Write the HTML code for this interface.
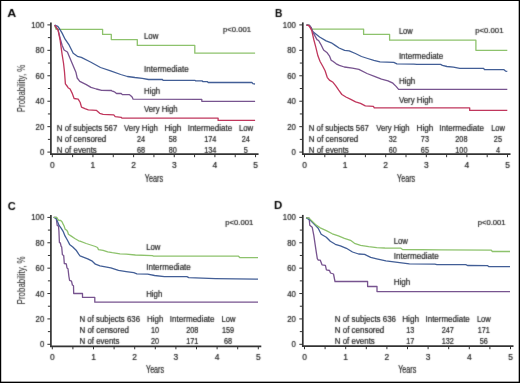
<!DOCTYPE html>
<html><head><meta charset="utf-8"><style>
html,body{margin:0;padding:0;background:#fff;}
body{width:520px;height:383px;overflow:hidden;}
svg{display:block;font-family:"Liberation Sans", sans-serif;will-change:transform;}
</style></head><body>
<svg width="520" height="383" viewBox="0 0 520 383">
<defs><filter id="sm" x="0" y="0" width="520" height="383" filterUnits="userSpaceOnUse" color-interpolation-filters="sRGB"><feConvolveMatrix order="3" kernelMatrix="0.0144 0.0912 0.0144 0.0912 0.5776 0.0912 0.0144 0.0912 0.0144" divisor="1" edgeMode="duplicate" preserveAlpha="false"/></filter></defs>
<rect x="0" y="0" width="520" height="383" fill="#fff"/>
<g>
<line x1="50.9" y1="22.4" x2="50.9" y2="155.0" stroke="#333" stroke-width="1.7"/>
<line x1="47.4" y1="24.90" x2="50.9" y2="24.90" stroke="#333" stroke-width="1"/>
<line x1="47.9" y1="37.62" x2="50.9" y2="37.62" stroke="#333" stroke-width="1"/>
<line x1="47.4" y1="50.34" x2="50.9" y2="50.34" stroke="#333" stroke-width="1"/>
<line x1="47.9" y1="63.06" x2="50.9" y2="63.06" stroke="#333" stroke-width="1"/>
<line x1="47.4" y1="75.78" x2="50.9" y2="75.78" stroke="#333" stroke-width="1"/>
<line x1="47.9" y1="88.50" x2="50.9" y2="88.50" stroke="#333" stroke-width="1"/>
<line x1="47.4" y1="101.22" x2="50.9" y2="101.22" stroke="#333" stroke-width="1"/>
<line x1="47.9" y1="113.94" x2="50.9" y2="113.94" stroke="#333" stroke-width="1"/>
<line x1="47.4" y1="126.66" x2="50.9" y2="126.66" stroke="#333" stroke-width="1"/>
<line x1="47.9" y1="139.38" x2="50.9" y2="139.38" stroke="#333" stroke-width="1"/>
<line x1="47.4" y1="152.10" x2="50.9" y2="152.10" stroke="#333" stroke-width="1"/>
<line x1="50.1" y1="154.2" x2="258.55" y2="154.2" stroke="#333" stroke-width="1.8"/>
<line x1="52.30" y1="154.2" x2="52.30" y2="157.2" stroke="#333" stroke-width="1"/>
<line x1="72.62" y1="154.2" x2="72.62" y2="157.2" stroke="#333" stroke-width="1"/>
<line x1="92.95" y1="154.2" x2="92.95" y2="157.2" stroke="#333" stroke-width="1"/>
<line x1="113.27" y1="154.2" x2="113.27" y2="157.2" stroke="#333" stroke-width="1"/>
<line x1="133.60" y1="154.2" x2="133.60" y2="157.2" stroke="#333" stroke-width="1"/>
<line x1="153.93" y1="154.2" x2="153.93" y2="157.2" stroke="#333" stroke-width="1"/>
<line x1="174.25" y1="154.2" x2="174.25" y2="157.2" stroke="#333" stroke-width="1"/>
<line x1="194.57" y1="154.2" x2="194.57" y2="157.2" stroke="#333" stroke-width="1"/>
<line x1="214.90" y1="154.2" x2="214.90" y2="157.2" stroke="#333" stroke-width="1"/>
<line x1="235.22" y1="154.2" x2="235.22" y2="157.2" stroke="#333" stroke-width="1"/>
<line x1="255.55" y1="154.2" x2="255.55" y2="157.2" stroke="#333" stroke-width="1"/>
<polyline points="54.7,25.2 56.0,29.3 102.6,29.3 102.6,34.4 111.3,34.4 111.3,39.6 137.3,39.6 137.3,45.4 194.8,45.4 194.8,53.2 255.1,53.2" fill="none" stroke="#8dc26c" stroke-width="1.3" stroke-linejoin="round"/>
<polyline points="54.7,25.2 57.8,26.3 59.1,28.1 62.1,33.1 65.1,39.2 69.2,45.2 73.2,53.3 77.4,56.3 81.3,57.4 90.5,62.0 100.5,67.5 110.6,70.9 120.7,74.5 127.4,76.5 134.9,77.5 142.3,78.3 148.5,79.5 162.5,79.5 162.9,80.3 194.7,80.3 195.7,80.9 202.0,80.9 203.0,81.6 207.2,81.6 208.2,82.5 251.9,82.5 252.9,83.6 255.0,84.0" fill="none" stroke="#425e96" stroke-width="1.3" stroke-linejoin="round"/>
<polyline points="54.7,25.2 58.1,30.1 60.1,38.2 62.1,45.2 64.1,50.0 67.4,52.0 72.0,63.0 75.9,72.2 77.2,78.0 79.8,81.3 86.3,84.6 91.0,87.4 96.3,89.0 101.7,90.4 111.5,90.5 112.3,91.2 113.8,91.5 115.0,92.3 116.5,93.5 121.2,93.5 122.3,94.6 129.2,94.6 130.8,95.8 132.3,97.3 133.1,99.2 201.8,99.3 201.8,101.3 255.1,101.3" fill="none" stroke="#77538f" stroke-width="1.3" stroke-linejoin="round"/>
<polyline points="54.7,25.2 58.1,30.1 60.1,40.2 62.1,54.3 63.5,63.0 64.5,72.0 65.4,83.9 67.4,86.5 68.1,87.7 70.1,89.0 72.1,93.1 74.1,98.5 78.2,99.1 80.2,102.5 81.5,107.2 84.9,108.6 88.3,109.9 96.3,110.3 99.7,113.3 103.1,114.3 113.8,114.9 115.2,116.6 121.2,117.3 121.9,118.1 218.1,118.1 218.1,120.4 255.1,120.4" fill="none" stroke="#c0365c" stroke-width="1.3" stroke-linejoin="round"/>
<line x1="302.8" y1="22.4" x2="302.8" y2="155.0" stroke="#333" stroke-width="1.7"/>
<line x1="299.3" y1="24.90" x2="302.8" y2="24.90" stroke="#333" stroke-width="1"/>
<line x1="299.8" y1="37.62" x2="302.8" y2="37.62" stroke="#333" stroke-width="1"/>
<line x1="299.3" y1="50.34" x2="302.8" y2="50.34" stroke="#333" stroke-width="1"/>
<line x1="299.8" y1="63.06" x2="302.8" y2="63.06" stroke="#333" stroke-width="1"/>
<line x1="299.3" y1="75.78" x2="302.8" y2="75.78" stroke="#333" stroke-width="1"/>
<line x1="299.8" y1="88.50" x2="302.8" y2="88.50" stroke="#333" stroke-width="1"/>
<line x1="299.3" y1="101.22" x2="302.8" y2="101.22" stroke="#333" stroke-width="1"/>
<line x1="299.8" y1="113.94" x2="302.8" y2="113.94" stroke="#333" stroke-width="1"/>
<line x1="299.3" y1="126.66" x2="302.8" y2="126.66" stroke="#333" stroke-width="1"/>
<line x1="299.8" y1="139.38" x2="302.8" y2="139.38" stroke="#333" stroke-width="1"/>
<line x1="299.3" y1="152.10" x2="302.8" y2="152.10" stroke="#333" stroke-width="1"/>
<line x1="302.0" y1="154.2" x2="510.5" y2="154.2" stroke="#333" stroke-width="1.8"/>
<line x1="304.50" y1="154.2" x2="304.50" y2="157.2" stroke="#333" stroke-width="1"/>
<line x1="324.80" y1="154.2" x2="324.80" y2="157.2" stroke="#333" stroke-width="1"/>
<line x1="345.10" y1="154.2" x2="345.10" y2="157.2" stroke="#333" stroke-width="1"/>
<line x1="365.40" y1="154.2" x2="365.40" y2="157.2" stroke="#333" stroke-width="1"/>
<line x1="385.70" y1="154.2" x2="385.70" y2="157.2" stroke="#333" stroke-width="1"/>
<line x1="406.00" y1="154.2" x2="406.00" y2="157.2" stroke="#333" stroke-width="1"/>
<line x1="426.30" y1="154.2" x2="426.30" y2="157.2" stroke="#333" stroke-width="1"/>
<line x1="446.60" y1="154.2" x2="446.60" y2="157.2" stroke="#333" stroke-width="1"/>
<line x1="466.90" y1="154.2" x2="466.90" y2="157.2" stroke="#333" stroke-width="1"/>
<line x1="487.20" y1="154.2" x2="487.20" y2="157.2" stroke="#333" stroke-width="1"/>
<line x1="507.50" y1="154.2" x2="507.50" y2="157.2" stroke="#333" stroke-width="1"/>
<polyline points="306.5,25.0 309.0,25.0 312.0,29.1 363.6,29.1 363.6,34.4 389.6,34.4 389.6,40.2 475.9,40.2 475.9,50.3 507.3,50.3" fill="none" stroke="#8dc26c" stroke-width="1.3" stroke-linejoin="round"/>
<polyline points="306.5,25.0 310.0,26.0 313.0,31.7 319.6,37.0 326.1,40.9 331.3,42.8 335.2,45.4 339.1,48.0 344.6,50.4 349.2,50.8 355.4,53.5 361.5,56.5 367.7,58.5 373.8,60.4 380.0,61.9 393.8,62.4 396.9,63.8 413.8,64.2 416.9,64.4 440.6,64.4 442.4,65.4 447.0,66.5 453.4,67.2 459.8,68.3 483.6,68.3 484.5,69.6 503.7,69.6 505.5,71.1 507.3,71.4" fill="none" stroke="#425e96" stroke-width="1.3" stroke-linejoin="round"/>
<polyline points="306.5,25.0 309.1,25.2 311.1,27.5 313.0,32.4 317.0,39.6 318.6,40.5 320.8,44.3 323.6,50.0 327.2,52.8 329.4,55.8 331.3,60.5 332.2,60.8 336.2,63.8 339.4,65.3 344.3,67.0 352.4,68.1 358.9,69.4 367.0,73.5 375.1,76.7 381.5,79.1 388.0,80.8 392.9,83.2 396.1,86.4 398.6,89.3 507.3,89.4" fill="none" stroke="#77538f" stroke-width="1.3" stroke-linejoin="round"/>
<polyline points="306.5,25.0 309.1,25.9 311.7,30.4 313.9,40.0 315.8,47.2 317.9,55.8 320.1,61.5 322.9,66.5 325.1,70.8 327.2,77.3 329.4,80.1 333.0,82.3 335.8,85.9 338.7,90.2 341.9,94.5 345.9,97.0 350.8,99.4 355.6,101.8 360.5,103.4 365.3,105.9 373.4,106.4 374.3,107.8 469.7,107.8 469.7,110.4 507.3,110.4" fill="none" stroke="#c0365c" stroke-width="1.3" stroke-linejoin="round"/>
<line x1="50.9" y1="214.9" x2="50.9" y2="347.1" stroke="#333" stroke-width="1.7"/>
<line x1="47.4" y1="217.40" x2="50.9" y2="217.40" stroke="#333" stroke-width="1"/>
<line x1="47.9" y1="230.09" x2="50.9" y2="230.09" stroke="#333" stroke-width="1"/>
<line x1="47.4" y1="242.78" x2="50.9" y2="242.78" stroke="#333" stroke-width="1"/>
<line x1="47.9" y1="255.47" x2="50.9" y2="255.47" stroke="#333" stroke-width="1"/>
<line x1="47.4" y1="268.16" x2="50.9" y2="268.16" stroke="#333" stroke-width="1"/>
<line x1="47.9" y1="280.85" x2="50.9" y2="280.85" stroke="#333" stroke-width="1"/>
<line x1="47.4" y1="293.54" x2="50.9" y2="293.54" stroke="#333" stroke-width="1"/>
<line x1="47.9" y1="306.23" x2="50.9" y2="306.23" stroke="#333" stroke-width="1"/>
<line x1="47.4" y1="318.92" x2="50.9" y2="318.92" stroke="#333" stroke-width="1"/>
<line x1="47.9" y1="331.61" x2="50.9" y2="331.61" stroke="#333" stroke-width="1"/>
<line x1="47.4" y1="344.30" x2="50.9" y2="344.30" stroke="#333" stroke-width="1"/>
<line x1="50.1" y1="346.3" x2="261.3" y2="346.3" stroke="#333" stroke-width="1.8"/>
<line x1="52.30" y1="346.3" x2="52.30" y2="349.3" stroke="#333" stroke-width="1"/>
<line x1="72.90" y1="346.3" x2="72.90" y2="349.3" stroke="#333" stroke-width="1"/>
<line x1="93.50" y1="346.3" x2="93.50" y2="349.3" stroke="#333" stroke-width="1"/>
<line x1="114.10" y1="346.3" x2="114.10" y2="349.3" stroke="#333" stroke-width="1"/>
<line x1="134.70" y1="346.3" x2="134.70" y2="349.3" stroke="#333" stroke-width="1"/>
<line x1="155.30" y1="346.3" x2="155.30" y2="349.3" stroke="#333" stroke-width="1"/>
<line x1="175.90" y1="346.3" x2="175.90" y2="349.3" stroke="#333" stroke-width="1"/>
<line x1="196.50" y1="346.3" x2="196.50" y2="349.3" stroke="#333" stroke-width="1"/>
<line x1="217.10" y1="346.3" x2="217.10" y2="349.3" stroke="#333" stroke-width="1"/>
<line x1="237.70" y1="346.3" x2="237.70" y2="349.3" stroke="#333" stroke-width="1"/>
<line x1="258.30" y1="346.3" x2="258.30" y2="349.3" stroke="#333" stroke-width="1"/>
<polyline points="53.7,217.3 56.3,217.3 56.5,220.2 57.2,225.4 58.5,226.1 58.9,230.7 59.4,242.4 60.4,243.1 61.1,246.3 61.7,247.0 62.4,254.8 63.7,255.5 64.3,263.5 66.3,263.9 67.0,268.0 68.0,268.7 68.9,276.5 69.6,280.4 71.5,281.1 72.4,285.0 73.5,285.7 73.7,293.5 82.5,293.5 82.5,297.4 94.8,297.4 94.8,302.2 258.0,302.2" fill="none" stroke="#77538f" stroke-width="1.3" stroke-linejoin="round"/>
<polyline points="53.7,217.3 56.5,218.9 57.8,222.2 59.1,225.4 61.1,228.1 63.1,231.3 65.0,235.9 67.6,240.5 69.6,244.4 72.8,247.0 76.1,250.2 78.7,254.2 80.0,255.8 87.7,258.8 92.3,261.2 95.4,264.2 100.0,265.8 110.8,267.8 118.5,270.4 126.2,271.6 133.8,272.7 136.9,273.8 147.7,274.2 154.6,275.5 164.4,276.7 186.9,276.7 188.8,277.7 215.4,278.6 258.0,279.1" fill="none" stroke="#425e96" stroke-width="1.3" stroke-linejoin="round"/>
<polyline points="53.7,217.3 56.7,217.4 57.8,219.2 58.8,220.3 60.7,220.5 62.0,221.8 63.0,223.9 64.1,226.0 65.1,229.1 66.7,230.2 67.7,231.8 68.4,234.3 70.9,235.9 74.8,238.5 78.7,240.8 80.0,241.2 86.2,243.5 90.8,245.0 95.4,246.5 97.5,247.5 98.5,249.6 103.1,250.4 107.7,251.9 112.3,252.7 120.0,253.8 126.2,254.2 135.4,255.0 152.3,255.6 153.6,256.1 238.5,256.2 240.0,257.7 258.0,257.7" fill="none" stroke="#8dc26c" stroke-width="1.3" stroke-linejoin="round"/>
<line x1="302.8" y1="214.9" x2="302.8" y2="347.0" stroke="#333" stroke-width="1.7"/>
<line x1="299.3" y1="217.40" x2="302.8" y2="217.40" stroke="#333" stroke-width="1"/>
<line x1="299.8" y1="230.09" x2="302.8" y2="230.09" stroke="#333" stroke-width="1"/>
<line x1="299.3" y1="242.78" x2="302.8" y2="242.78" stroke="#333" stroke-width="1"/>
<line x1="299.8" y1="255.47" x2="302.8" y2="255.47" stroke="#333" stroke-width="1"/>
<line x1="299.3" y1="268.16" x2="302.8" y2="268.16" stroke="#333" stroke-width="1"/>
<line x1="299.8" y1="280.85" x2="302.8" y2="280.85" stroke="#333" stroke-width="1"/>
<line x1="299.3" y1="293.54" x2="302.8" y2="293.54" stroke="#333" stroke-width="1"/>
<line x1="299.8" y1="306.23" x2="302.8" y2="306.23" stroke="#333" stroke-width="1"/>
<line x1="299.3" y1="318.92" x2="302.8" y2="318.92" stroke="#333" stroke-width="1"/>
<line x1="299.8" y1="331.61" x2="302.8" y2="331.61" stroke="#333" stroke-width="1"/>
<line x1="299.3" y1="344.30" x2="302.8" y2="344.30" stroke="#333" stroke-width="1"/>
<line x1="302.0" y1="346.2" x2="513.5" y2="346.2" stroke="#333" stroke-width="1.8"/>
<line x1="304.50" y1="346.2" x2="304.50" y2="349.2" stroke="#333" stroke-width="1"/>
<line x1="325.10" y1="346.2" x2="325.10" y2="349.2" stroke="#333" stroke-width="1"/>
<line x1="345.70" y1="346.2" x2="345.70" y2="349.2" stroke="#333" stroke-width="1"/>
<line x1="366.30" y1="346.2" x2="366.30" y2="349.2" stroke="#333" stroke-width="1"/>
<line x1="386.90" y1="346.2" x2="386.90" y2="349.2" stroke="#333" stroke-width="1"/>
<line x1="407.50" y1="346.2" x2="407.50" y2="349.2" stroke="#333" stroke-width="1"/>
<line x1="428.10" y1="346.2" x2="428.10" y2="349.2" stroke="#333" stroke-width="1"/>
<line x1="448.70" y1="346.2" x2="448.70" y2="349.2" stroke="#333" stroke-width="1"/>
<line x1="469.30" y1="346.2" x2="469.30" y2="349.2" stroke="#333" stroke-width="1"/>
<line x1="489.90" y1="346.2" x2="489.90" y2="349.2" stroke="#333" stroke-width="1"/>
<line x1="510.50" y1="346.2" x2="510.50" y2="349.2" stroke="#333" stroke-width="1"/>
<polyline points="306.1,217.7 309.1,218.1 309.8,225.2 312.2,227.2 313.8,235.4 315.9,249.6 317.3,258.7 318.3,260.2 320.3,260.2 322.0,264.8 325.4,265.3 326.4,269.9 329.5,270.5 330.5,273.0 333.5,274.0 335.0,281.5 367.6,281.5 367.6,286.5 377.0,286.5 377.0,291.6 510.0,291.6" fill="none" stroke="#77538f" stroke-width="1.3" stroke-linejoin="round"/>
<polyline points="306.1,217.7 310.1,220.1 314.1,224.1 318.2,228.2 321.2,234.2 326.3,237.2 330.3,241.3 335.3,244.3 340.4,245.9 346.4,248.3 352.5,252.0 358.6,254.0 364.6,254.4 370.7,257.4 376.7,258.8 385.9,260.9 399.6,262.6 409.4,263.8 434.9,264.2 436.9,264.6 465.8,264.6 467.5,265.5 487.4,265.6 488.6,266.6 510.0,266.6" fill="none" stroke="#425e96" stroke-width="1.3" stroke-linejoin="round"/>
<polyline points="306.1,217.7 309.1,218.1 312.1,221.1 316.2,225.1 320.2,227.8 326.3,230.6 332.3,233.8 338.4,235.8 344.4,238.3 350.5,240.3 354.5,243.3 360.6,245.3 368.7,246.7 376.7,247.6 384.8,248.0 400.6,248.1 402.5,249.5 441.0,249.9 491.3,250.2 492.3,251.5 510.0,251.5" fill="none" stroke="#8dc26c" stroke-width="1.3" stroke-linejoin="round"/>
</g>
<g filter="url(#sm)">
<text x="7.3" y="17.2" font-size="11.8" fill="#000" font-weight="bold" textLength="9" lengthAdjust="spacingAndGlyphs">A</text>
<text x="44.3" y="27.9" font-size="8.7" fill="#222" text-anchor="end" textLength="13.05" lengthAdjust="spacingAndGlyphs" stroke="#222" stroke-width="0.2">100</text>
<text x="44.3" y="53.34" font-size="8.7" fill="#222" text-anchor="end" textLength="8.7" lengthAdjust="spacingAndGlyphs" stroke="#222" stroke-width="0.2">80</text>
<text x="44.3" y="78.78" font-size="8.7" fill="#222" text-anchor="end" textLength="8.7" lengthAdjust="spacingAndGlyphs" stroke="#222" stroke-width="0.2">60</text>
<text x="44.3" y="104.22" font-size="8.7" fill="#222" text-anchor="end" textLength="8.7" lengthAdjust="spacingAndGlyphs" stroke="#222" stroke-width="0.2">40</text>
<text x="44.3" y="129.66" font-size="8.7" fill="#222" text-anchor="end" textLength="8.7" lengthAdjust="spacingAndGlyphs" stroke="#222" stroke-width="0.2">20</text>
<text x="44.3" y="155.1" font-size="8.7" fill="#222" text-anchor="end" textLength="4.35" lengthAdjust="spacingAndGlyphs" stroke="#222" stroke-width="0.2">0</text>
<text x="52.3" y="167.6" font-size="9" fill="#222" text-anchor="middle" textLength="4.7" lengthAdjust="spacingAndGlyphs" stroke="#222" stroke-width="0.2">0</text>
<text x="92.95" y="167.6" font-size="9" fill="#222" text-anchor="middle" textLength="4.7" lengthAdjust="spacingAndGlyphs" stroke="#222" stroke-width="0.2">1</text>
<text x="133.6" y="167.6" font-size="9" fill="#222" text-anchor="middle" textLength="4.7" lengthAdjust="spacingAndGlyphs" stroke="#222" stroke-width="0.2">2</text>
<text x="174.25" y="167.6" font-size="9" fill="#222" text-anchor="middle" textLength="4.7" lengthAdjust="spacingAndGlyphs" stroke="#222" stroke-width="0.2">3</text>
<text x="214.9" y="167.6" font-size="9" fill="#222" text-anchor="middle" textLength="4.7" lengthAdjust="spacingAndGlyphs" stroke="#222" stroke-width="0.2">4</text>
<text x="255.55" y="167.6" font-size="9" fill="#222" text-anchor="middle" textLength="4.7" lengthAdjust="spacingAndGlyphs" stroke="#222" stroke-width="0.2">5</text>
<text x="144.8" y="181.6" font-size="10.6" fill="#222" textLength="18.2" lengthAdjust="spacingAndGlyphs" stroke="#222" stroke-width="0.2">Years</text>
<text transform="translate(24.9,112.2) rotate(-90)" font-size="10" fill="#222" textLength="47.5" lengthAdjust="spacingAndGlyphs">Probability, %</text>
<text x="223" y="32.4" font-size="7.7" fill="#222" textLength="28.1" lengthAdjust="spacingAndGlyphs" stroke="#222" stroke-width="0.2">p&lt;0.001</text>
<text x="144" y="38.7" font-size="8.4" fill="#222" textLength="14.4" lengthAdjust="spacingAndGlyphs" stroke="#222" stroke-width="0.2">Low</text>
<text x="144" y="71.7" font-size="8.4" fill="#222" textLength="44.6" lengthAdjust="spacingAndGlyphs" stroke="#222" stroke-width="0.2">Intermediate</text>
<text x="144" y="93.5" font-size="8.4" fill="#222" textLength="16.1" lengthAdjust="spacingAndGlyphs" stroke="#222" stroke-width="0.2">High</text>
<text x="144" y="112.0" font-size="8.4" fill="#222" textLength="33.7" lengthAdjust="spacingAndGlyphs" stroke="#222" stroke-width="0.2">Very High</text>
<text x="56.8" y="131" font-size="8.5" fill="#222" textLength="60.5" lengthAdjust="spacingAndGlyphs" stroke="#222" stroke-width="0.2">N of subjects 567</text>
<text x="124" y="131" font-size="8.5" fill="#222" textLength="33.9" lengthAdjust="spacingAndGlyphs" stroke="#222" stroke-width="0.2">Very High</text>
<text x="164.4" y="131" font-size="8.5" fill="#222" textLength="16.9" lengthAdjust="spacingAndGlyphs" stroke="#222" stroke-width="0.2">High</text>
<text x="187.7" y="131" font-size="8.5" fill="#222" textLength="44.4" lengthAdjust="spacingAndGlyphs" stroke="#222" stroke-width="0.2">Intermediate</text>
<text x="238.9" y="131" font-size="8.5" fill="#222" textLength="14.3" lengthAdjust="spacingAndGlyphs" stroke="#222" stroke-width="0.2">Low</text>
<text x="56.8" y="142" font-size="8.5" fill="#222" textLength="49.5" lengthAdjust="spacingAndGlyphs" stroke="#222" stroke-width="0.2">N of censored</text>
<text x="141" y="142" font-size="8.5" fill="#222" text-anchor="middle" textLength="8.1" lengthAdjust="spacingAndGlyphs" stroke="#222" stroke-width="0.2">24</text>
<text x="172.8" y="142" font-size="8.5" fill="#222" text-anchor="middle" textLength="8.1" lengthAdjust="spacingAndGlyphs" stroke="#222" stroke-width="0.2">58</text>
<text x="210.3" y="142" font-size="8.5" fill="#222" text-anchor="middle" textLength="12.15" lengthAdjust="spacingAndGlyphs" stroke="#222" stroke-width="0.2">174</text>
<text x="245.8" y="142" font-size="8.5" fill="#222" text-anchor="middle" textLength="8.1" lengthAdjust="spacingAndGlyphs" stroke="#222" stroke-width="0.2">24</text>
<text x="56.8" y="153" font-size="8.5" fill="#222" textLength="40.0" lengthAdjust="spacingAndGlyphs" stroke="#222" stroke-width="0.2">N of events</text>
<text x="141" y="153" font-size="8.5" fill="#222" text-anchor="middle" textLength="8.1" lengthAdjust="spacingAndGlyphs" stroke="#222" stroke-width="0.2">68</text>
<text x="172.8" y="153" font-size="8.5" fill="#222" text-anchor="middle" textLength="8.1" lengthAdjust="spacingAndGlyphs" stroke="#222" stroke-width="0.2">80</text>
<text x="210.3" y="153" font-size="8.5" fill="#222" text-anchor="middle" textLength="12.15" lengthAdjust="spacingAndGlyphs" stroke="#222" stroke-width="0.2">134</text>
<text x="245.8" y="153" font-size="8.5" fill="#222" text-anchor="middle" textLength="4.05" lengthAdjust="spacingAndGlyphs" stroke="#222" stroke-width="0.2">5</text>
<text x="275" y="17.2" font-size="11.3" fill="#000" font-weight="bold" textLength="7.4" lengthAdjust="spacingAndGlyphs">B</text>
<text x="295.9" y="27.9" font-size="8.7" fill="#222" text-anchor="end" textLength="13.05" lengthAdjust="spacingAndGlyphs" stroke="#222" stroke-width="0.2">100</text>
<text x="295.9" y="53.34" font-size="8.7" fill="#222" text-anchor="end" textLength="8.7" lengthAdjust="spacingAndGlyphs" stroke="#222" stroke-width="0.2">80</text>
<text x="295.9" y="78.78" font-size="8.7" fill="#222" text-anchor="end" textLength="8.7" lengthAdjust="spacingAndGlyphs" stroke="#222" stroke-width="0.2">60</text>
<text x="295.9" y="104.22" font-size="8.7" fill="#222" text-anchor="end" textLength="8.7" lengthAdjust="spacingAndGlyphs" stroke="#222" stroke-width="0.2">40</text>
<text x="295.9" y="129.66" font-size="8.7" fill="#222" text-anchor="end" textLength="8.7" lengthAdjust="spacingAndGlyphs" stroke="#222" stroke-width="0.2">20</text>
<text x="295.9" y="155.1" font-size="8.7" fill="#222" text-anchor="end" textLength="4.35" lengthAdjust="spacingAndGlyphs" stroke="#222" stroke-width="0.2">0</text>
<text x="304.5" y="167.6" font-size="9" fill="#222" text-anchor="middle" textLength="4.7" lengthAdjust="spacingAndGlyphs" stroke="#222" stroke-width="0.2">0</text>
<text x="345.1" y="167.6" font-size="9" fill="#222" text-anchor="middle" textLength="4.7" lengthAdjust="spacingAndGlyphs" stroke="#222" stroke-width="0.2">1</text>
<text x="385.7" y="167.6" font-size="9" fill="#222" text-anchor="middle" textLength="4.7" lengthAdjust="spacingAndGlyphs" stroke="#222" stroke-width="0.2">2</text>
<text x="426.3" y="167.6" font-size="9" fill="#222" text-anchor="middle" textLength="4.7" lengthAdjust="spacingAndGlyphs" stroke="#222" stroke-width="0.2">3</text>
<text x="466.9" y="167.6" font-size="9" fill="#222" text-anchor="middle" textLength="4.7" lengthAdjust="spacingAndGlyphs" stroke="#222" stroke-width="0.2">4</text>
<text x="507.5" y="167.6" font-size="9" fill="#222" text-anchor="middle" textLength="4.7" lengthAdjust="spacingAndGlyphs" stroke="#222" stroke-width="0.2">5</text>
<text x="397.1" y="181.5" font-size="10.6" fill="#222" textLength="18.1" lengthAdjust="spacingAndGlyphs" stroke="#222" stroke-width="0.2">Years</text>
<text x="475.2" y="32.8" font-size="7.7" fill="#222" textLength="28.3" lengthAdjust="spacingAndGlyphs" stroke="#222" stroke-width="0.2">p&lt;0.001</text>
<text x="398.9" y="34.1" font-size="8.4" fill="#222" textLength="13.8" lengthAdjust="spacingAndGlyphs" stroke="#222" stroke-width="0.2">Low</text>
<text x="398.9" y="58.7" font-size="8.4" fill="#222" textLength="44.4" lengthAdjust="spacingAndGlyphs" stroke="#222" stroke-width="0.2">Intermediate</text>
<text x="398.9" y="84.1" font-size="8.4" fill="#222" textLength="16.4" lengthAdjust="spacingAndGlyphs" stroke="#222" stroke-width="0.2">High</text>
<text x="398.9" y="103.1" font-size="8.4" fill="#222" textLength="34.0" lengthAdjust="spacingAndGlyphs" stroke="#222" stroke-width="0.2">Very High</text>
<text x="308.8" y="131" font-size="8.5" fill="#222" textLength="60.0" lengthAdjust="spacingAndGlyphs" stroke="#222" stroke-width="0.2">N of subjects 567</text>
<text x="376.2" y="131" font-size="8.5" fill="#222" textLength="33.4" lengthAdjust="spacingAndGlyphs" stroke="#222" stroke-width="0.2">Very High</text>
<text x="416.5" y="131" font-size="8.5" fill="#222" textLength="16.8" lengthAdjust="spacingAndGlyphs" stroke="#222" stroke-width="0.2">High</text>
<text x="439.3" y="131" font-size="8.5" fill="#222" textLength="44.6" lengthAdjust="spacingAndGlyphs" stroke="#222" stroke-width="0.2">Intermediate</text>
<text x="491.2" y="131" font-size="8.5" fill="#222" textLength="13.8" lengthAdjust="spacingAndGlyphs" stroke="#222" stroke-width="0.2">Low</text>
<text x="308.8" y="142" font-size="8.5" fill="#222" textLength="49.5" lengthAdjust="spacingAndGlyphs" stroke="#222" stroke-width="0.2">N of censored</text>
<text x="392.8" y="142" font-size="8.5" fill="#222" text-anchor="middle" textLength="8.1" lengthAdjust="spacingAndGlyphs" stroke="#222" stroke-width="0.2">32</text>
<text x="424.9" y="142" font-size="8.5" fill="#222" text-anchor="middle" textLength="8.1" lengthAdjust="spacingAndGlyphs" stroke="#222" stroke-width="0.2">73</text>
<text x="461.4" y="142" font-size="8.5" fill="#222" text-anchor="middle" textLength="12.15" lengthAdjust="spacingAndGlyphs" stroke="#222" stroke-width="0.2">208</text>
<text x="497.9" y="142" font-size="8.5" fill="#222" text-anchor="middle" textLength="8.1" lengthAdjust="spacingAndGlyphs" stroke="#222" stroke-width="0.2">25</text>
<text x="308.8" y="153" font-size="8.5" fill="#222" textLength="40.0" lengthAdjust="spacingAndGlyphs" stroke="#222" stroke-width="0.2">N of events</text>
<text x="392.8" y="153" font-size="8.5" fill="#222" text-anchor="middle" textLength="8.1" lengthAdjust="spacingAndGlyphs" stroke="#222" stroke-width="0.2">60</text>
<text x="424.9" y="153" font-size="8.5" fill="#222" text-anchor="middle" textLength="8.1" lengthAdjust="spacingAndGlyphs" stroke="#222" stroke-width="0.2">65</text>
<text x="461.4" y="153" font-size="8.5" fill="#222" text-anchor="middle" textLength="12.15" lengthAdjust="spacingAndGlyphs" stroke="#222" stroke-width="0.2">100</text>
<text x="497.9" y="153" font-size="8.5" fill="#222" text-anchor="middle" textLength="4.05" lengthAdjust="spacingAndGlyphs" stroke="#222" stroke-width="0.2">4</text>
<text x="7.7" y="209.5" font-size="11.3" fill="#000" font-weight="bold" textLength="8" lengthAdjust="spacingAndGlyphs">C</text>
<text x="44.3" y="220.4" font-size="8.7" fill="#222" text-anchor="end" textLength="13.05" lengthAdjust="spacingAndGlyphs" stroke="#222" stroke-width="0.2">100</text>
<text x="44.3" y="245.78" font-size="8.7" fill="#222" text-anchor="end" textLength="8.7" lengthAdjust="spacingAndGlyphs" stroke="#222" stroke-width="0.2">80</text>
<text x="44.3" y="271.16" font-size="8.7" fill="#222" text-anchor="end" textLength="8.7" lengthAdjust="spacingAndGlyphs" stroke="#222" stroke-width="0.2">60</text>
<text x="44.3" y="296.54" font-size="8.7" fill="#222" text-anchor="end" textLength="8.7" lengthAdjust="spacingAndGlyphs" stroke="#222" stroke-width="0.2">40</text>
<text x="44.3" y="321.92" font-size="8.7" fill="#222" text-anchor="end" textLength="8.7" lengthAdjust="spacingAndGlyphs" stroke="#222" stroke-width="0.2">20</text>
<text x="44.3" y="347.3" font-size="8.7" fill="#222" text-anchor="end" textLength="4.35" lengthAdjust="spacingAndGlyphs" stroke="#222" stroke-width="0.2">0</text>
<text x="52.3" y="359.7" font-size="9" fill="#222" text-anchor="middle" textLength="4.7" lengthAdjust="spacingAndGlyphs" stroke="#222" stroke-width="0.2">0</text>
<text x="93.5" y="359.7" font-size="9" fill="#222" text-anchor="middle" textLength="4.7" lengthAdjust="spacingAndGlyphs" stroke="#222" stroke-width="0.2">1</text>
<text x="134.7" y="359.7" font-size="9" fill="#222" text-anchor="middle" textLength="4.7" lengthAdjust="spacingAndGlyphs" stroke="#222" stroke-width="0.2">2</text>
<text x="175.9" y="359.7" font-size="9" fill="#222" text-anchor="middle" textLength="4.7" lengthAdjust="spacingAndGlyphs" stroke="#222" stroke-width="0.2">3</text>
<text x="217.1" y="359.7" font-size="9" fill="#222" text-anchor="middle" textLength="4.7" lengthAdjust="spacingAndGlyphs" stroke="#222" stroke-width="0.2">4</text>
<text x="258.3" y="359.7" font-size="9" fill="#222" text-anchor="middle" textLength="4.7" lengthAdjust="spacingAndGlyphs" stroke="#222" stroke-width="0.2">5</text>
<text x="146" y="372.9" font-size="10.6" fill="#222" textLength="18.1" lengthAdjust="spacingAndGlyphs" stroke="#222" stroke-width="0.2">Years</text>
<text transform="translate(24.9,304.4) rotate(-90)" font-size="10" fill="#222" textLength="48.1" lengthAdjust="spacingAndGlyphs">Probability, %</text>
<text x="225.2" y="224.8" font-size="7.7" fill="#222" textLength="28.1" lengthAdjust="spacingAndGlyphs" stroke="#222" stroke-width="0.2">p&lt;0.001</text>
<text x="146.2" y="250.1" font-size="8.4" fill="#222" textLength="14.3" lengthAdjust="spacingAndGlyphs" stroke="#222" stroke-width="0.2">Low</text>
<text x="146.2" y="269.7" font-size="8.4" fill="#222" textLength="44.6" lengthAdjust="spacingAndGlyphs" stroke="#222" stroke-width="0.2">Intermediate</text>
<text x="146.2" y="296.7" font-size="8.4" fill="#222" textLength="16.2" lengthAdjust="spacingAndGlyphs" stroke="#222" stroke-width="0.2">High</text>
<text x="79.5" y="321.8" font-size="8.5" fill="#222" textLength="60.5" lengthAdjust="spacingAndGlyphs" stroke="#222" stroke-width="0.2">N of subjects 636</text>
<text x="147" y="321.8" font-size="8.5" fill="#222" textLength="16.3" lengthAdjust="spacingAndGlyphs" stroke="#222" stroke-width="0.2">High</text>
<text x="169.8" y="321.8" font-size="8.5" fill="#222" textLength="44.8" lengthAdjust="spacingAndGlyphs" stroke="#222" stroke-width="0.2">Intermediate</text>
<text x="221.5" y="321.8" font-size="8.5" fill="#222" textLength="13.9" lengthAdjust="spacingAndGlyphs" stroke="#222" stroke-width="0.2">Low</text>
<text x="79.5" y="332.8" font-size="8.5" fill="#222" textLength="49.5" lengthAdjust="spacingAndGlyphs" stroke="#222" stroke-width="0.2">N of censored</text>
<text x="155" y="332.8" font-size="8.5" fill="#222" text-anchor="middle" textLength="8.1" lengthAdjust="spacingAndGlyphs" stroke="#222" stroke-width="0.2">10</text>
<text x="192.2" y="332.8" font-size="8.5" fill="#222" text-anchor="middle" textLength="12.15" lengthAdjust="spacingAndGlyphs" stroke="#222" stroke-width="0.2">208</text>
<text x="228" y="332.8" font-size="8.5" fill="#222" text-anchor="middle" textLength="12.15" lengthAdjust="spacingAndGlyphs" stroke="#222" stroke-width="0.2">159</text>
<text x="79.5" y="343.8" font-size="8.5" fill="#222" textLength="40.0" lengthAdjust="spacingAndGlyphs" stroke="#222" stroke-width="0.2">N of events</text>
<text x="155" y="343.8" font-size="8.5" fill="#222" text-anchor="middle" textLength="8.1" lengthAdjust="spacingAndGlyphs" stroke="#222" stroke-width="0.2">20</text>
<text x="192.2" y="343.8" font-size="8.5" fill="#222" text-anchor="middle" textLength="12.15" lengthAdjust="spacingAndGlyphs" stroke="#222" stroke-width="0.2">171</text>
<text x="228" y="343.8" font-size="8.5" fill="#222" text-anchor="middle" textLength="8.1" lengthAdjust="spacingAndGlyphs" stroke="#222" stroke-width="0.2">68</text>
<text x="274.1" y="209.4" font-size="11.3" fill="#000" font-weight="bold" textLength="8.3" lengthAdjust="spacingAndGlyphs">D</text>
<text x="295.9" y="220.4" font-size="8.7" fill="#222" text-anchor="end" textLength="13.05" lengthAdjust="spacingAndGlyphs" stroke="#222" stroke-width="0.2">100</text>
<text x="295.9" y="245.78" font-size="8.7" fill="#222" text-anchor="end" textLength="8.7" lengthAdjust="spacingAndGlyphs" stroke="#222" stroke-width="0.2">80</text>
<text x="295.9" y="271.16" font-size="8.7" fill="#222" text-anchor="end" textLength="8.7" lengthAdjust="spacingAndGlyphs" stroke="#222" stroke-width="0.2">60</text>
<text x="295.9" y="296.54" font-size="8.7" fill="#222" text-anchor="end" textLength="8.7" lengthAdjust="spacingAndGlyphs" stroke="#222" stroke-width="0.2">40</text>
<text x="295.9" y="321.92" font-size="8.7" fill="#222" text-anchor="end" textLength="8.7" lengthAdjust="spacingAndGlyphs" stroke="#222" stroke-width="0.2">20</text>
<text x="295.9" y="347.3" font-size="8.7" fill="#222" text-anchor="end" textLength="4.35" lengthAdjust="spacingAndGlyphs" stroke="#222" stroke-width="0.2">0</text>
<text x="304.5" y="359.7" font-size="9" fill="#222" text-anchor="middle" textLength="4.7" lengthAdjust="spacingAndGlyphs" stroke="#222" stroke-width="0.2">0</text>
<text x="345.7" y="359.7" font-size="9" fill="#222" text-anchor="middle" textLength="4.7" lengthAdjust="spacingAndGlyphs" stroke="#222" stroke-width="0.2">1</text>
<text x="386.9" y="359.7" font-size="9" fill="#222" text-anchor="middle" textLength="4.7" lengthAdjust="spacingAndGlyphs" stroke="#222" stroke-width="0.2">2</text>
<text x="428.1" y="359.7" font-size="9" fill="#222" text-anchor="middle" textLength="4.7" lengthAdjust="spacingAndGlyphs" stroke="#222" stroke-width="0.2">3</text>
<text x="469.3" y="359.7" font-size="9" fill="#222" text-anchor="middle" textLength="4.7" lengthAdjust="spacingAndGlyphs" stroke="#222" stroke-width="0.2">4</text>
<text x="510.5" y="359.7" font-size="9" fill="#222" text-anchor="middle" textLength="4.7" lengthAdjust="spacingAndGlyphs" stroke="#222" stroke-width="0.2">5</text>
<text x="398.2" y="373.3" font-size="10.6" fill="#222" textLength="18.1" lengthAdjust="spacingAndGlyphs" stroke="#222" stroke-width="0.2">Years</text>
<text x="477.7" y="224.8" font-size="7.7" fill="#222" textLength="27.9" lengthAdjust="spacingAndGlyphs" stroke="#222" stroke-width="0.2">p&lt;0.001</text>
<text x="393.7" y="243.6" font-size="8.4" fill="#222" textLength="14.3" lengthAdjust="spacingAndGlyphs" stroke="#222" stroke-width="0.2">Low</text>
<text x="393.7" y="259.3" font-size="8.4" fill="#222" textLength="45.1" lengthAdjust="spacingAndGlyphs" stroke="#222" stroke-width="0.2">Intermediate</text>
<text x="393.7" y="285.2" font-size="8.4" fill="#222" textLength="16.7" lengthAdjust="spacingAndGlyphs" stroke="#222" stroke-width="0.2">High</text>
<text x="334.8" y="321.7" font-size="8.5" fill="#222" textLength="61.2" lengthAdjust="spacingAndGlyphs" stroke="#222" stroke-width="0.2">N of subjects 636</text>
<text x="402.2" y="321.7" font-size="8.5" fill="#222" textLength="16.9" lengthAdjust="spacingAndGlyphs" stroke="#222" stroke-width="0.2">High</text>
<text x="425.5" y="321.7" font-size="8.5" fill="#222" textLength="44.3" lengthAdjust="spacingAndGlyphs" stroke="#222" stroke-width="0.2">Intermediate</text>
<text x="476.9" y="321.7" font-size="8.5" fill="#222" textLength="13.9" lengthAdjust="spacingAndGlyphs" stroke="#222" stroke-width="0.2">Low</text>
<text x="334.8" y="332.6" font-size="8.5" fill="#222" textLength="49.5" lengthAdjust="spacingAndGlyphs" stroke="#222" stroke-width="0.2">N of censored</text>
<text x="410.2" y="332.6" font-size="8.5" fill="#222" text-anchor="middle" textLength="8.1" lengthAdjust="spacingAndGlyphs" stroke="#222" stroke-width="0.2">13</text>
<text x="447.7" y="332.6" font-size="8.5" fill="#222" text-anchor="middle" textLength="12.15" lengthAdjust="spacingAndGlyphs" stroke="#222" stroke-width="0.2">247</text>
<text x="483.7" y="332.6" font-size="8.5" fill="#222" text-anchor="middle" textLength="12.15" lengthAdjust="spacingAndGlyphs" stroke="#222" stroke-width="0.2">171</text>
<text x="334.8" y="343.5" font-size="8.5" fill="#222" textLength="40.0" lengthAdjust="spacingAndGlyphs" stroke="#222" stroke-width="0.2">N of events</text>
<text x="410.2" y="343.5" font-size="8.5" fill="#222" text-anchor="middle" textLength="8.1" lengthAdjust="spacingAndGlyphs" stroke="#222" stroke-width="0.2">17</text>
<text x="447.7" y="343.5" font-size="8.5" fill="#222" text-anchor="middle" textLength="12.15" lengthAdjust="spacingAndGlyphs" stroke="#222" stroke-width="0.2">132</text>
<text x="483.7" y="343.5" font-size="8.5" fill="#222" text-anchor="middle" textLength="8.1" lengthAdjust="spacingAndGlyphs" stroke="#222" stroke-width="0.2">56</text>
</g>
<g>
<rect x="0" y="0" width="520" height="1" fill="#000"/>
<rect x="0" y="0" width="1" height="383" fill="#000"/>
<rect x="1" y="1" width="1" height="381" fill="#000" fill-opacity="0.2"/>
<rect x="519" y="0" width="1" height="383" fill="#000"/>
<rect x="518" y="1" width="1" height="381" fill="#000" fill-opacity="0.3"/>
<rect x="0" y="382" width="520" height="1" fill="#000"/>
<rect x="1" y="381" width="518" height="1" fill="#000" fill-opacity="0.35"/>
</g>
</svg>
</body></html>
